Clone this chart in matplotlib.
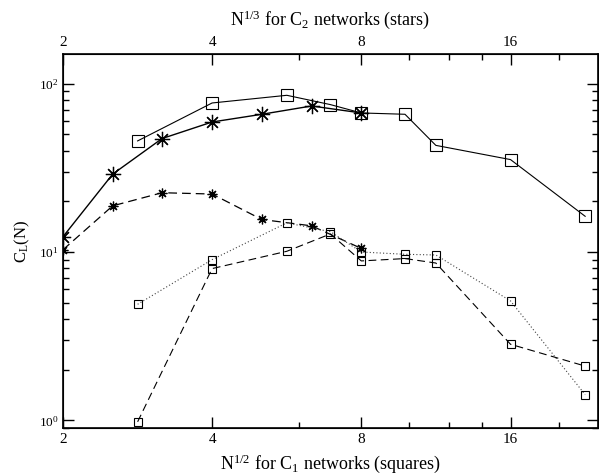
import matplotlib
matplotlib.use("Agg")
import matplotlib.pyplot as plt
from matplotlib.ticker import FixedLocator, NullFormatter, LogLocator, FixedFormatter

plt.rcParams['font.family'] = ['Liberation Serif', 'DejaVu Serif']
plt.rcParams['mathtext.fontset'] = 'custom'
plt.rcParams['mathtext.rm'] = 'Liberation Serif'
plt.rcParams['mathtext.it'] = 'Liberation Serif:italic'

# C2 networks (stars), x = N^(1/3)
star_x = [2.0, 2.52, 3.17, 4.0, 5.04, 6.35, 8.0]
star_big_y = [12.3, 29.0, 47.2, 59.2, 65.8, 73.7, 67.0]
star_small_y = [10.3, 18.8, 22.5, 22.1, 15.6, 14.3, 10.5]

# C1 networks (squares), x = N^(1/2)
sq_x = [2.83, 4.0, 5.66, 6.93, 8.0, 9.80, 11.31, 16.0, 22.63]
sq_big_y = [45.7, 76.8, 85.3, 75.1, 67.0, 65.8, 43.0, 35.4, 16.3]
sq_dot_y = [4.89, 9.01, 14.9, 13.2, 10.0, 9.69, 9.6, 5.12, 1.42]
sq_dash_y = [0.98, 7.97, 10.1, 12.8, 8.85, 9.14, 8.6, 2.83, 2.10]

x_major = [2, 4, 8, 16]
x_minor = [6, 10, 12, 14, 20]
y_major = [1, 10, 100]
y_major_labels = [r'$10^0$', r'$10^1$', r'$10^2$']

fig = plt.figure(figsize=(5.99, 4.74), dpi=100)
ax = fig.add_axes([0.105, 0.097, 0.893, 0.789])

ax.plot(sq_x, sq_big_y, color='black', lw=0.8, marker='s', ms=8.5,
        mfc='none', mec='black', mew=0.8)
ax.plot(star_x, star_big_y, color='black', lw=1.0, marker=(8, 2, 0), ms=11,
        mew=0.9, mec='black')
ax.plot(star_x, star_small_y, color='black', lw=0.9, ls=(0, (7, 4)),
        marker=(8, 2, 0), ms=7, mew=0.9, mec='black')
ax.plot(sq_x, sq_dot_y, color='#444444', lw=0.8, ls=(0, (1, 2)), marker='s',
        ms=6, mfc='none', mec='black', mew=0.8)
ax.plot(sq_x, sq_dash_y, color='black', lw=0.8, ls=(0, (7, 4)), marker='s',
        ms=6, mfc='none', mec='black', mew=0.8)

ax.set_xscale('log', base=2)
ax.set_yscale('log')
ax.set_xlim(2, 24)
ax.set_ylim(0.9, 150)

ax.xaxis.set_major_locator(FixedLocator(x_major))
ax.xaxis.set_major_formatter(FixedFormatter([str(v) for v in x_major]))
ax.xaxis.set_minor_locator(FixedLocator(x_minor))
ax.xaxis.set_minor_formatter(NullFormatter())
ax.yaxis.set_major_locator(FixedLocator(y_major))
ax.yaxis.set_major_formatter(FixedFormatter(y_major_labels))
ax.yaxis.set_minor_locator(LogLocator(base=10, subs=range(2, 10)))
ax.yaxis.set_minor_formatter(NullFormatter())

ax.tick_params(which='both', direction='in', right=True, top=False, width=1.0)
ax.tick_params(which='major', length=8, labelsize=11)
ax.tick_params(which='minor', length=4)
ax.tick_params(axis='y', which='major', labelsize=9.5, pad=3)
for s in ax.spines.values():
    s.set_linewidth(1.2)

ax.set_xlabel(r'N$^{1/2}$ for C$_1$ networks (squares)', fontsize=13, labelpad=5)
ax.set_ylabel(r'C$_\mathrm{L}$(N)', fontsize=12, labelpad=5)

ax2 = ax.twiny()
ax2.set_xscale('log', base=2)
ax2.set_xlim(2, 24)
ax2.xaxis.set_major_locator(FixedLocator(x_major))
ax2.xaxis.set_major_formatter(FixedFormatter([str(v) for v in x_major]))
ax2.xaxis.set_minor_locator(FixedLocator(x_minor))
ax2.xaxis.set_minor_formatter(NullFormatter())
ax2.tick_params(which='both', direction='in', width=1.0)
ax2.tick_params(which='major', length=8, labelsize=11)
ax2.tick_params(which='minor', length=4)
ax2.set_xlabel(r'N$^{1/3}$ for C$_2$ networks (stars)', fontsize=13, labelpad=8)

fig.savefig('out.png', dpi=100)
